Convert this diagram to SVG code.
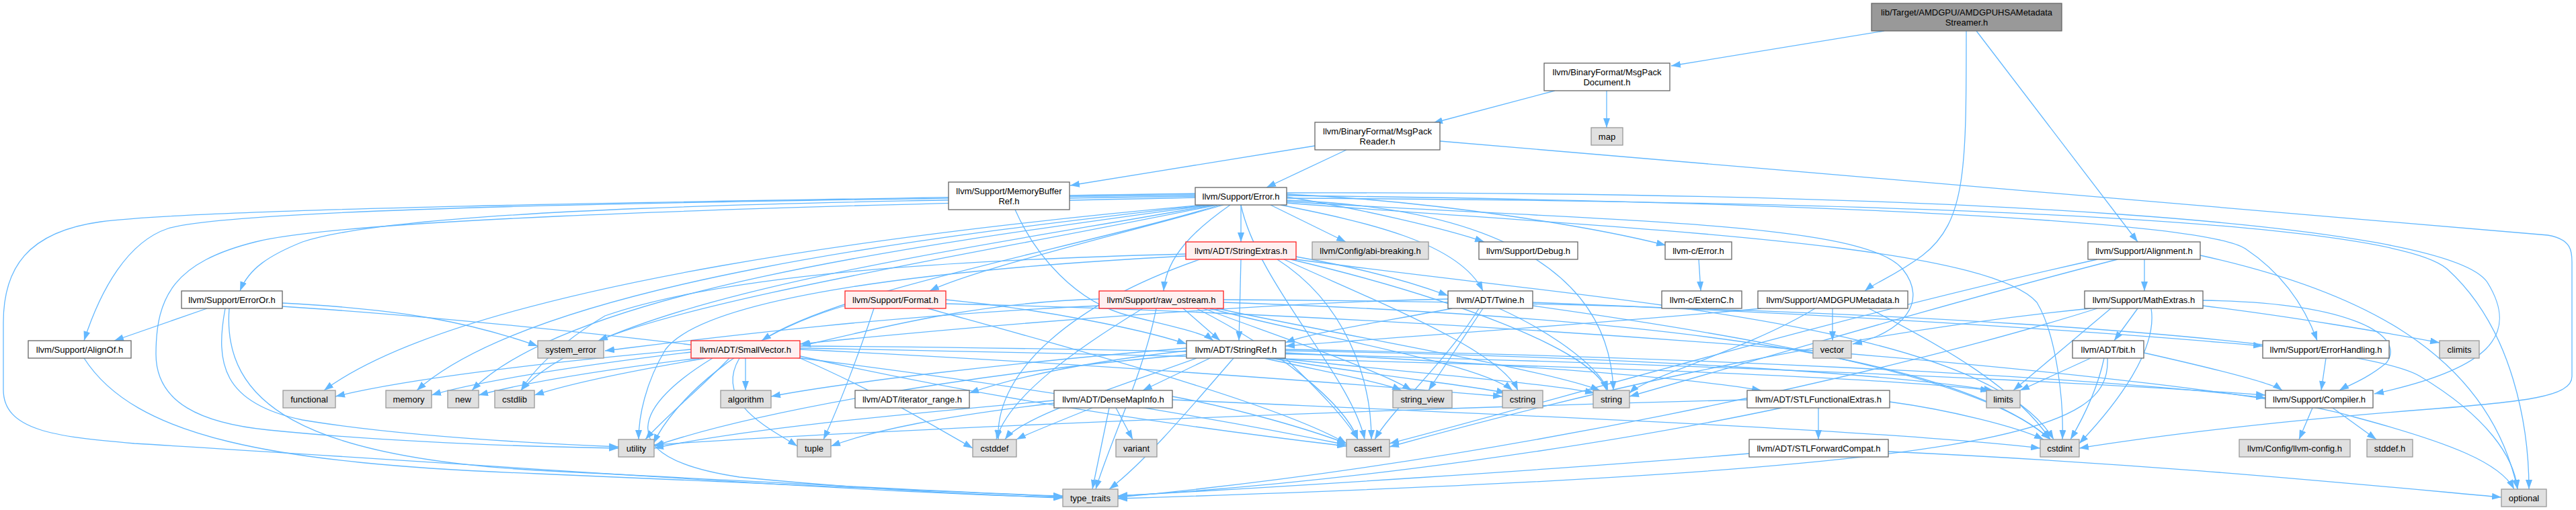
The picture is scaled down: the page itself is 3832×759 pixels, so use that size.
<svg xmlns="http://www.w3.org/2000/svg" width="3832" height="759" viewBox="0 0 3832 759">
<defs>
<marker id="ah" viewBox="0 0 14 10" refX="14" refY="5" markerWidth="14" markerHeight="10" markerUnits="userSpaceOnUse" orient="auto">
<path d="M0,0 L14,5 L0,10 z" fill="#63b8ff"/>
</marker>
<style>
.e{fill:none;stroke:#63b8ff;stroke-width:1.3;marker-end:url(#ah)}
.n rect{fill:#ffffff;stroke:#666666;stroke-width:1.3}
.g rect{fill:#e0e0e0;stroke:#999999;stroke-width:1.3}
.r rect{fill:#fff0f0;stroke:#ff2020;stroke-width:1.3}
.root rect{fill:#999999;stroke:#666666;stroke-width:1.3}
text{font-family:"Liberation Sans",Arial,sans-serif;font-size:13px;fill:#000000;text-anchor:middle}
</style>
</defs>
<rect width="3832" height="759" fill="#ffffff"/>
<g id="edges">
<path class="e" d="M2803,46 L2486,98"/>
<path class="e" d="M2925,46 C2925,250 2925,330 2860,380 C2820,410 2790,420 2774,433"/>
<path class="e" d="M2940,46 L3180,360"/>
<path class="e" d="M2313,135 L2132,183"/>
<path class="e" d="M2390,135 L2390,190"/>
<path class="e" d="M2003,223 L1884,279"/>
<path class="e" d="M1956,217 L1592,276"/>
<path class="e" d="M2142,210 L3790,350 C3826,356 3826,375 3826,390 L3826,560 C3826,590 3760,598 3600,610 C3350,630 3200,650 3093,667"/>
<path class="e" d="M1510,312 C1540,380 1600,450 1680,470 C1740,485 1790,495 1805,507"/>
<path class="e" d="M1846,305 L1846,360"/>
<path class="e" d="M1890,305 L2002,360"/>
<path class="e" d="M1914,293 C2020,310 2150,340 2208,360"/>
<path class="e" d="M1914,289 C2150,300 2380,340 2478,365"/>
<path class="e" d="M1905,305 C2030,330 2170,360 2206,433"/>
<path class="e" d="M1914,291 C2700,300 3280,330 3340,370 C3400,410 3430,460 3447,507"/>
<path class="e" d="M1914,287 C2900,285 3640,330 3700,420 C3750,500 3700,550 3532,586"/>
<path class="e" d="M1914,295 C2900,300 3560,330 3640,400 C3740,490 3762,640 3762,728"/>
<path class="e" d="M1914,302 C2400,340 2950,360 3030,450 C3060,500 3070,600 3068,654"/>
<path class="e" d="M1914,298 C2250,310 2395,420 2400,581"/>
<path class="e" d="M1846,305 C1870,420 2010,560 2030,654"/>
<path class="e" d="M1914,300 C2400,330 2770,330 2830,400 C2870,450 2830,495 2756,512"/>
<path class="e" d="M1778,292 C1200,300 600,310 450,360 C400,380 370,400 357,433"/>
<path class="e" d="M1778,290 C1000,300 350,310 250,340 C190,360 150,430 125,507"/>
<path class="e" d="M1778,294 C1000,310 500,330 380,360 C260,390 232,440 232,527 C232,600 300,630 400,640 C600,660 800,665 920,667"/>
<path class="e" d="M1778,288 C1000,300 300,310 150,330 C40,345 5,400 5,480 L5,580 C5,640 80,650 200,660 C700,690 1300,735 1581,740"/>
<path class="e" d="M1790,305 C1400,340 700,420 482,581"/>
<path class="e" d="M1795,305 C1400,350 800,420 620,581"/>
<path class="e" d="M1800,305 C1400,360 850,430 702,581"/>
<path class="e" d="M1805,305 C1450,370 900,440 775,581"/>
<path class="e" d="M1810,305 C1500,370 1050,440 890,507"/>
<path class="e" d="M1815,305 C1600,370 1250,430 1133,507"/>
<path class="e" d="M1820,305 C1700,340 1450,400 1383,433"/>
<path class="e" d="M1830,305 C1780,340 1735,380 1731,433"/>
<path class="e" d="M1846,386 L1843,507"/>
<path class="e" d="M1928,382 C2030,400 2100,420 2154,440"/>
<path class="e" d="M1900,386 C2000,450 2040,560 2040,654"/>
<path class="e" d="M1785,386 C1600,450 1480,550 1485,654"/>
<path class="e" d="M1928,386 C2400,450 2950,480 3055,654"/>
<path class="e" d="M1910,386 C2050,450 2230,520 2258,581"/>
<path class="e" d="M1920,386 C2150,440 2370,520 2390,581"/>
<path class="e" d="M1764,378 C1500,385 1100,400 900,470 C850,500 800,540 775,581"/>
<path class="e" d="M1764,381 C1400,400 1050,440 990,520 C960,570 950,620 950,654"/>
<path class="e" d="M1635,445 C1450,450 1300,490 1192,515"/>
<path class="e" d="M1760,459 L1815,507"/>
<path class="e" d="M1780,459 C1900,520 2000,600 2020,654"/>
<path class="e" d="M1700,459 C1600,520 1500,590 1482,654"/>
<path class="e" d="M1820,450 C2400,470 2900,520 3050,654"/>
<path class="e" d="M1800,459 C1950,500 2200,540 2250,581"/>
<path class="e" d="M1820,446 C2700,450 3500,500 3600,560 C3700,620 3740,680 3745,728"/>
<path class="e" d="M1810,459 C2000,500 2300,550 2380,581"/>
<path class="e" d="M1790,459 C1900,500 2050,550 2100,581"/>
<path class="e" d="M1635,455 C1300,470 1000,510 900,522"/>
<path class="e" d="M1720,459 C1700,560 1650,660 1630,728"/>
<path class="e" d="M1407,446 C1550,460 1700,490 1765,512"/>
<path class="e" d="M1380,459 C1600,520 1900,600 2003,660"/>
<path class="e" d="M1407,452 C2200,470 3300,560 3500,620 C3650,660 3720,690 3740,728"/>
<path class="e" d="M1300,459 C1280,520 1250,600 1225,654"/>
<path class="e" d="M1257,455 C1100,500 1000,600 972,660"/>
<path class="e" d="M1109,533 L1109,581"/>
<path class="e" d="M1085,533 C1040,580 990,620 960,654"/>
<path class="e" d="M1100,533 C1060,600 1150,640 1186,664"/>
<path class="e" d="M1028,520 C800,540 600,565 499,590"/>
<path class="e" d="M1028,524 C850,545 700,570 642,588"/>
<path class="e" d="M1040,533 C900,550 780,570 712,588"/>
<path class="e" d="M1050,533 C950,550 850,570 795,588"/>
<path class="e" d="M1190,533 C1300,580 1400,640 1447,667"/>
<path class="e" d="M1190,530 C1500,600 1800,640 2003,664"/>
<path class="e" d="M1190,520 C1600,540 2000,570 2235,590"/>
<path class="e" d="M1190,518 C1800,530 2700,550 2960,581"/>
<path class="e" d="M1190,515 C2000,520 3000,560 3370,588"/>
<path class="e" d="M1060,533 C950,600 900,680 1100,710 C1300,730 1500,738 1581,741"/>
<path class="e" d="M1800,533 L1700,581"/>
<path class="e" d="M1912,525 C2200,540 2500,560 2620,581"/>
<path class="e" d="M1765,522 C1600,540 1500,565 1442,585"/>
<path class="e" d="M1912,520 C2500,530 3100,560 3370,592"/>
<path class="e" d="M1765,518 C1500,540 1250,570 1147,590"/>
<path class="e" d="M1912,533 C1960,580 2000,620 2020,654"/>
<path class="e" d="M1780,533 C1650,580 1520,620 1495,654"/>
<path class="e" d="M1890,533 C2050,560 2200,575 2240,585"/>
<path class="e" d="M1912,522 C2400,530 2800,555 2965,581"/>
<path class="e" d="M1900,533 C2100,555 2300,570 2372,585"/>
<path class="e" d="M1880,533 C1980,555 2060,570 2085,581"/>
<path class="e" d="M1835,533 C1760,620 1700,690 1650,728"/>
<path class="e" d="M1765,528 C1400,560 1100,620 973,664"/>
<path class="e" d="M1744,590 C1850,610 1950,640 2003,660"/>
<path class="e" d="M1625,607 C1580,625 1530,645 1512,654"/>
<path class="e" d="M1744,595 C2300,620 2800,640 3035,667"/>
<path class="e" d="M1568,600 C1400,620 1300,640 1236,664"/>
<path class="e" d="M1650,607 L1625,728"/>
<path class="e" d="M1568,596 C1300,620 1100,640 973,667"/>
<path class="e" d="M1660,607 L1685,654"/>
<path class="e" d="M2154,445 C1900,450 1500,480 1190,512"/>
<path class="e" d="M2160,459 C2050,480 1950,495 1912,510"/>
<path class="e" d="M2280,450 C2800,470 3200,500 3366,515"/>
<path class="e" d="M2200,459 C2150,540 2070,610 2045,654"/>
<path class="e" d="M2280,455 C2600,500 2950,560 3050,654"/>
<path class="e" d="M2230,459 C2320,500 2380,550 2392,581"/>
<path class="e" d="M2206,459 L2125,581"/>
<path class="e" d="M2527,386 L2530,433"/>
<path class="e" d="M2726,459 L2726,507"/>
<path class="e" d="M2620,459 C2400,480 2100,500 1912,515"/>
<path class="e" d="M2700,459 C2600,520 2450,560 2424,585"/>
<path class="e" d="M2780,459 C2900,520 3000,580 3050,654"/>
<path class="e" d="M3190,386 L3190,433"/>
<path class="e" d="M3120,386 C2700,480 2300,600 2067,660"/>
<path class="e" d="M3273,380 C3500,430 3700,520 3745,728"/>
<path class="e" d="M3150,386 C2900,450 2600,540 2424,590"/>
<path class="e" d="M3180,459 L3145,507"/>
<path class="e" d="M3277,447 C3500,450 3580,500 3550,540 C3520,565 3490,575 3480,581"/>
<path class="e" d="M3277,455 C3400,470 3550,495 3629,510"/>
<path class="e" d="M3110,459 C2700,500 2300,600 2067,665"/>
<path class="e" d="M3200,459 C3210,520 3150,600 3093,660"/>
<path class="e" d="M3140,459 L2995,581"/>
<path class="e" d="M3120,459 C2800,560 2200,690 1663,740"/>
<path class="e" d="M3189,525 C3300,550 3380,570 3395,581"/>
<path class="e" d="M3130,533 C3120,580 3100,620 3080,654"/>
<path class="e" d="M3110,533 L3005,581"/>
<path class="e" d="M3135,533 C3140,640 3000,700 1663,742"/>
<path class="e" d="M3460,533 L3453,581"/>
<path class="e" d="M3440,607 L3420,654"/>
<path class="e" d="M3470,607 L3535,654"/>
<path class="e" d="M2705,607 L2705,654"/>
<path class="e" d="M2811,598 C2900,610 3000,635 3040,654"/>
<path class="e" d="M2650,607 C2400,660 2000,720 1663,738"/>
<path class="e" d="M2599,595 C2000,610 1300,640 973,662"/>
<path class="e" d="M2809,672 C3200,690 3500,720 3721,740"/>
<path class="e" d="M2602,675 C2300,700 1900,725 1663,738"/>
<path class="e" d="M308,459 L170,507"/>
<path class="e" d="M335,459 C320,540 330,600 450,625 C600,650 800,660 920,665"/>
<path class="e" d="M341,459 C330,600 450,680 800,700 C1200,720 1450,735 1581,738"/>
<path class="e" d="M420,451 C600,460 700,480 800,515"/>
<path class="e" d="M420,456 C800,480 1500,560 2003,662"/>
<path class="e" d="M125,533 C200,650 400,690 800,705 C1200,720 1450,735 1581,739"/>
</g>
<g id="root" class="root"><rect x="2784" y="5" width="283" height="41"/><text x="2925.5" y="23">lib/Target/AMDGPU/AMDGPUHSAMetadata</text><text x="2925.5" y="38">Streamer.h</text></g>
<g id="msgpackdocument" class="n"><rect x="2297" y="94" width="187" height="41"/><text x="2390.5" y="112">llvm/BinaryFormat/MsgPack</text><text x="2390.5" y="127">Document.h</text></g>
<g id="map" class="g"><rect x="2367" y="190" width="47" height="26"/><text x="2390.5" y="207.5">map</text></g>
<g id="msgpackreader" class="n"><rect x="1956" y="182" width="186" height="41"/><text x="2049" y="200">llvm/BinaryFormat/MsgPack</text><text x="2049" y="215">Reader.h</text></g>
<g id="memorybufferref" class="n"><rect x="1411" y="271" width="180" height="41"/><text x="1501" y="289">llvm/Support/MemoryBuffer</text><text x="1501" y="304">Ref.h</text></g>
<g id="error" class="n"><rect x="1778" y="279" width="136" height="26"/><text x="1846" y="296.5">llvm/Support/Error.h</text></g>
<g id="stringextras" class="r"><rect x="1764" y="360" width="164" height="26"/><text x="1846" y="377.5">llvm/ADT/StringExtras.h</text></g>
<g id="abibreaking" class="g"><rect x="1952" y="360" width="173" height="26"/><text x="2038.5" y="377.5">llvm/Config/abi-breaking.h</text></g>
<g id="debug" class="n"><rect x="2200" y="360" width="147" height="26"/><text x="2273.5" y="377.5">llvm/Support/Debug.h</text></g>
<g id="cerror" class="n"><rect x="2477" y="360" width="99" height="26"/><text x="2526.5" y="377.5">llvm-c/Error.h</text></g>
<g id="alignment" class="n"><rect x="3106" y="360" width="167" height="26"/><text x="3189.5" y="377.5">llvm/Support/Alignment.h</text></g>
<g id="erroror" class="n"><rect x="270" y="433" width="150" height="26"/><text x="345" y="450.5">llvm/Support/ErrorOr.h</text></g>
<g id="format" class="r"><rect x="1257" y="433" width="150" height="26"/><text x="1332" y="450.5">llvm/Support/Format.h</text></g>
<g id="rawostream" class="r"><rect x="1635" y="433" width="185" height="26"/><text x="1727.5" y="450.5">llvm/Support/raw_ostream.h</text></g>
<g id="twine" class="n"><rect x="2154" y="433" width="126" height="26"/><text x="2217" y="450.5">llvm/ADT/Twine.h</text></g>
<g id="externc" class="n"><rect x="2472" y="433" width="119" height="26"/><text x="2531.5" y="450.5">llvm-c/ExternC.h</text></g>
<g id="amdgpumetadata" class="n"><rect x="2615" y="433" width="223" height="26"/><text x="2726.5" y="450.5">llvm/Support/AMDGPUMetadata.h</text></g>
<g id="mathextras" class="n"><rect x="3101" y="433" width="176" height="26"/><text x="3189" y="450.5">llvm/Support/MathExtras.h</text></g>
<g id="alignof" class="n"><rect x="42" y="507" width="153" height="26"/><text x="118.5" y="524.5">llvm/Support/AlignOf.h</text></g>
<g id="system_error" class="g"><rect x="800" y="507" width="98" height="26"/><text x="849" y="524.5">system_error</text></g>
<g id="smallvector" class="r"><rect x="1028" y="507" width="162" height="26"/><text x="1109" y="524.5">llvm/ADT/SmallVector.h</text></g>
<g id="stringref" class="n"><rect x="1765" y="507" width="147" height="26"/><text x="1838.5" y="524.5">llvm/ADT/StringRef.h</text></g>
<g id="vector" class="g"><rect x="2697" y="507" width="57" height="26"/><text x="2725.5" y="524.5">vector</text></g>
<g id="bit" class="n"><rect x="3083" y="507" width="106" height="26"/><text x="3136" y="524.5">llvm/ADT/bit.h</text></g>
<g id="errorhandling" class="n"><rect x="3366" y="507" width="188" height="26"/><text x="3460" y="524.5">llvm/Support/ErrorHandling.h</text></g>
<g id="climits" class="g"><rect x="3629" y="507" width="59" height="26"/><text x="3658.5" y="524.5">climits</text></g>
<g id="functional" class="g"><rect x="421" y="581" width="78" height="26"/><text x="460" y="598.5">functional</text></g>
<g id="memory" class="g"><rect x="574" y="581" width="68" height="26"/><text x="608" y="598.5">memory</text></g>
<g id="new" class="g"><rect x="666" y="581" width="46" height="26"/><text x="689" y="598.5">new</text></g>
<g id="cstdlib" class="g"><rect x="736" y="581" width="59" height="26"/><text x="765.5" y="598.5">cstdlib</text></g>
<g id="algorithm" class="g"><rect x="1072" y="581" width="75" height="26"/><text x="1109.5" y="598.5">algorithm</text></g>
<g id="iterator_range" class="n"><rect x="1272" y="581" width="170" height="26"/><text x="1357" y="598.5">llvm/ADT/iterator_range.h</text></g>
<g id="densemapinfo" class="n"><rect x="1568" y="581" width="176" height="26"/><text x="1656" y="598.5">llvm/ADT/DenseMapInfo.h</text></g>
<g id="string_view" class="g"><rect x="2072" y="581" width="88" height="26"/><text x="2116" y="598.5">string_view</text></g>
<g id="cstring" class="g"><rect x="2235" y="581" width="60" height="26"/><text x="2265" y="598.5">cstring</text></g>
<g id="string" class="g"><rect x="2370" y="581" width="54" height="26"/><text x="2397" y="598.5">string</text></g>
<g id="stlfunctionalextras" class="n"><rect x="2599" y="581" width="212" height="26"/><text x="2705" y="598.5">llvm/ADT/STLFunctionalExtras.h</text></g>
<g id="limits" class="g"><rect x="2955" y="581" width="50" height="26"/><text x="2980" y="598.5">limits</text></g>
<g id="compiler" class="n"><rect x="3370" y="581" width="160" height="26"/><text x="3450" y="598.5">llvm/Support/Compiler.h</text></g>
<g id="utility" class="g"><rect x="920" y="654" width="53" height="26"/><text x="946.5" y="671.5">utility</text></g>
<g id="tuple" class="g"><rect x="1186" y="654" width="50" height="26"/><text x="1211" y="671.5">tuple</text></g>
<g id="cstddef" class="g"><rect x="1447" y="654" width="65" height="26"/><text x="1479.5" y="671.5">cstddef</text></g>
<g id="variant" class="g"><rect x="1660" y="654" width="61" height="26"/><text x="1690.5" y="671.5">variant</text></g>
<g id="cassert" class="g"><rect x="2003" y="654" width="64" height="26"/><text x="2035" y="671.5">cassert</text></g>
<g id="stlforwardcompat" class="n"><rect x="2602" y="654" width="207" height="26"/><text x="2705.5" y="671.5">llvm/ADT/STLForwardCompat.h</text></g>
<g id="cstdint" class="g"><rect x="3035" y="654" width="58" height="26"/><text x="3064" y="671.5">cstdint</text></g>
<g id="llvmconfig" class="g"><rect x="3331" y="654" width="165" height="26"/><text x="3413.5" y="671.5">llvm/Config/llvm-config.h</text></g>
<g id="stddef" class="g"><rect x="3521" y="654" width="68" height="26"/><text x="3555" y="671.5">stddef.h</text></g>
<g id="type_traits" class="g"><rect x="1581" y="728" width="82" height="26"/><text x="1622" y="745.5">type_traits</text></g>
<g id="optional" class="g"><rect x="3721" y="728" width="67" height="26"/><text x="3754.5" y="745.5">optional</text></g>
</svg>
